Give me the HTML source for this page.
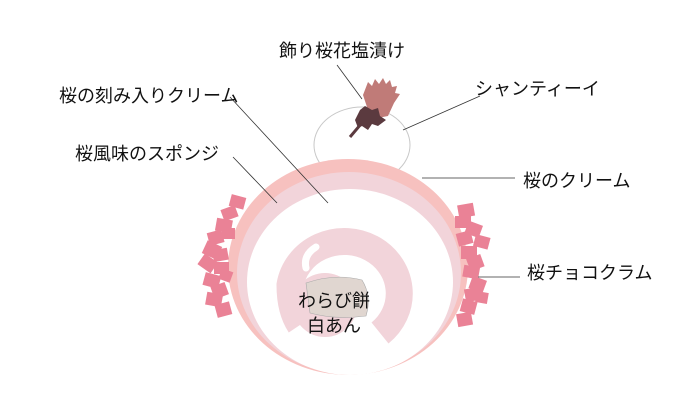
<!DOCTYPE html>
<html><head><meta charset="utf-8"><style>
html,body{margin:0;padding:0;background:#fff;width:690px;height:400px;overflow:hidden}
text{font-family:"Liberation Sans","Noto Sans CJK JP",sans-serif;font-size:18px;fill:#111}
</style></head><body>
<svg width="690" height="400" viewBox="0 0 690 400">
<!-- chantilly -->
<ellipse cx="362" cy="145" rx="48" ry="38" fill="#fff" stroke="#c8c8c8" stroke-width="1"/>
<!-- cake outer -->
<ellipse cx="348" cy="267" rx="120" ry="108" fill="#f7c1bf"/>
<ellipse cx="349" cy="273" rx="112" ry="101" fill="#f2d4da"/>
<ellipse cx="350" cy="282" rx="103" ry="93" fill="#fff"/>
<!-- inner spiral -->
<path d="M380 333 A55 52 0 1 0 290 285 Q290 310 300 325" fill="none" stroke="#f2d4da" stroke-width="27"/>
<circle cx="325" cy="305" r="32" fill="#f2d4da"/>
<path d="M306 268 Q303 255 316 247" fill="none" stroke="#fff" stroke-width="7" stroke-linecap="round"/>
<!-- wagashi -->
<path d="M306 283 Q335 273 362 280 Q372 296 366 316 Q335 320 310 313 Z" fill="#e0d6d0" stroke="#aaa" stroke-width="0.6"/>
<text x="298" y="307">わらび餅</text>
<text x="307" y="332">白あん</text>
<!-- crumbs left -->
<g fill="#ea8296">
<rect x="230" y="196" width="15" height="12" transform="rotate(15 238 202)"/>
<rect x="222" y="207" width="15" height="12" transform="rotate(-20 230 213)"/>
<rect x="216" y="219" width="16" height="13" transform="rotate(10 224 225)"/>
<rect x="208" y="231" width="15" height="13" transform="rotate(-15 216 237)"/>
<rect x="204" y="243" width="16" height="14" transform="rotate(25 212 250)"/>
<rect x="213" y="249" width="15" height="12" transform="rotate(-10 220 255)"/>
<rect x="200" y="257" width="16" height="13" transform="rotate(35 208 263)"/>
<rect x="214" y="262" width="15" height="12"/>
<rect x="204" y="274" width="16" height="13" transform="rotate(15 212 280)"/>
<rect x="212" y="284" width="15" height="13" transform="rotate(-20 220 290)"/>
<rect x="206" y="293" width="16" height="13" transform="rotate(10 214 300)"/>
<rect x="216" y="303" width="15" height="13" transform="rotate(-15 224 310)"/>
<rect x="222" y="228" width="13" height="11"/>
<rect x="220" y="270" width="12" height="11" transform="rotate(20 226 275)"/>
<!-- right -->
<rect x="458" y="204" width="16" height="13" transform="rotate(-10 466 210)"/>
<rect x="455" y="216" width="16" height="12"/>
<rect x="466" y="223" width="15" height="13" transform="rotate(20 474 230)"/>
<rect x="457" y="232" width="15" height="13" transform="rotate(-15 464 238)"/>
<rect x="474" y="236" width="15" height="12" transform="rotate(15 482 243)"/>
<rect x="461" y="246" width="16" height="13"/>
<rect x="468" y="256" width="15" height="13" transform="rotate(-20 476 263)"/>
<rect x="463" y="266" width="16" height="12" transform="rotate(10 471 273)"/>
<rect x="470" y="278" width="15" height="13" transform="rotate(20 478 285)"/>
<rect x="465" y="288" width="16" height="13" transform="rotate(-10 473 295)"/>
<rect x="461" y="300" width="15" height="13" transform="rotate(15 468 307)"/>
<rect x="457" y="313" width="15" height="13" transform="rotate(-10 464 319)"/>
<rect x="476" y="292" width="12" height="11" transform="rotate(10 482 297)"/>
</g>
<!-- flower -->
<path d="M363 95 L368 82 L372 86 L375 79 L379 84 L383 78 L386 84 L390 80 L392 87 L397 86 L395 93 L400 94 L394 103 L388 116 L378 118 L368 110 Z" fill="#c07b78"/>
<path d="M360 110 L365 106 L372 110 L378 108 L380 116 L386 120 L378 126 L372 124 L368 130 L362 126 L358 128 L355 120 Z" fill="#5b3a3f"/>
<path d="M361 124 L350 137" stroke="#5b3a3f" stroke-width="3"/>
<!-- leader lines -->
<g stroke="#333" stroke-width="0.8" fill="none">
<line x1="337" y1="65" x2="362" y2="99"/>
<line x1="230" y1="97" x2="328" y2="203"/>
<line x1="480" y1="96" x2="403" y2="130"/>
<line x1="233" y1="157" x2="277" y2="203"/>
<line x1="515" y1="178" x2="422" y2="178"/>
<line x1="520" y1="277" x2="478" y2="277"/>
</g>
<text x="279" y="57">飾り桜花塩漬け</text>
<text x="59" y="102" font-size="16.5">桜の刻み入りクリーム</text>
<text x="475" y="95">シャンティーイ</text>
<text x="75" y="160">桜風味のスポンジ</text>
<text x="523" y="187">桜のクリーム</text>
<text x="527" y="279">桜チョコクラム</text>
</svg>
</body></html>
